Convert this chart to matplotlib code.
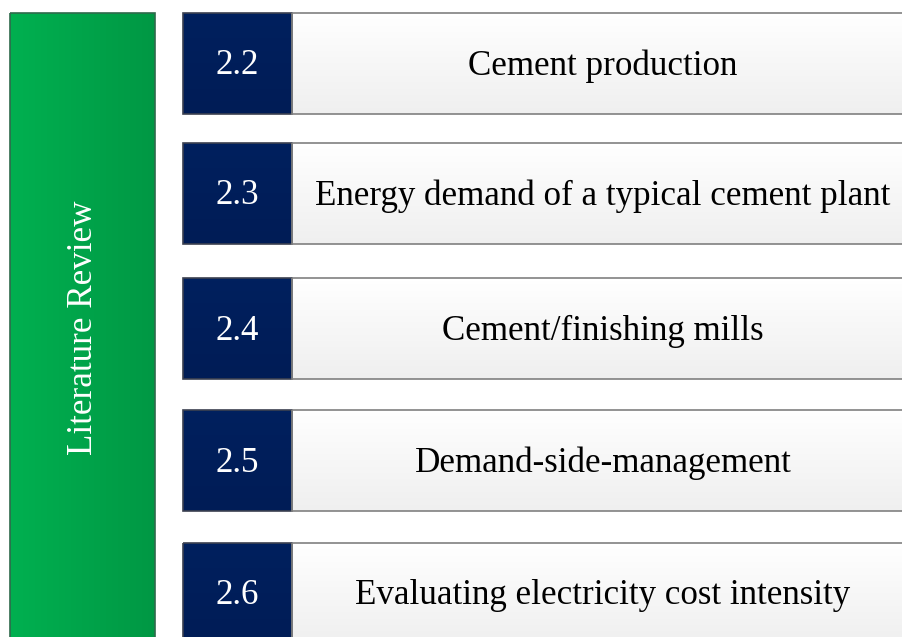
import numpy as np
import matplotlib
matplotlib.use("Agg")
import matplotlib.pyplot as plt
from matplotlib.patches import Rectangle

plt.rcParams['font.family'] = ['Liberation Serif', 'DejaVu Serif']

section_nums = ["2.2", "2.3", "2.4", "2.5", "2.6"]
section_titles = ["Cement production",
                  "Energy demand of a typical cement plant",
                  "Cement/finishing mills",
                  "Demand-side-management",
                  "Evaluating electricity cost intensity"]
side_label = "Literature Review"

W, H = 903, 637
fig = plt.figure(figsize=(W / 100, H / 100), dpi=100)
ax = fig.add_axes([0, 0, 1, 1])
ax.set_xlim(0, W)
ax.set_ylim(H, 0)
ax.axis("off")

# green side bar with horizontal gradient
g = np.linspace(0, 1, 64)[None, :]
c0 = np.array([0x00, 0xb0, 0x50]) / 255
c1 = np.array([0x00, 0x98, 0x44]) / 255
green = c0[None, None, :] * (1 - g[..., None]) + c1[None, None, :] * g[..., None]
ax.imshow(green, extent=(10, 155, 650, 13), aspect="auto", zorder=1)
ax.add_patch(Rectangle((10, 13), 145, 640, fill=False, ec="#2f6a4c", lw=1.2, zorder=3))
ax.text(84, 328, side_label, rotation=90, color="white", fontsize=25.2,
        ha="center", va="center", zorder=4)

tops = [13, 143, 278, 410, 543]
box_h = 101
for num, title, top in zip(section_nums, section_titles, tops):
    # navy number box
    nv = np.linspace(0, 1, 32)[:, None]
    n0 = np.array([0x00, 0x20, 0x5e]) / 255
    n1 = np.array([0x00, 0x1c, 0x56]) / 255
    navy = n0[None, None, :] * (1 - nv[..., None]) + n1[None, None, :] * nv[..., None]
    ax.imshow(navy, extent=(183, 292, top + box_h, top), aspect="auto", zorder=1)
    ax.add_patch(Rectangle((183, top), 109, box_h, fill=False, ec="#3c4150", lw=1.2, zorder=3))
    ax.text(237.5, top + box_h / 2 + 2.5, num, color="white", fontsize=25.2,
            ha="center", va="center", zorder=4)

    # light title box with vertical gradient
    gv = np.linspace(0, 1, 32)[:, None]
    w0 = np.array([1.0, 1.0, 1.0])
    w1 = np.array([0xef, 0xef, 0xef]) / 255
    grey = w0[None, None, :] * (1 - gv[..., None]) + w1[None, None, :] * gv[..., None]
    ax.imshow(grey, extent=(292, 915, top + box_h, top), aspect="auto", zorder=1)
    ax.add_patch(Rectangle((292, top), 623, box_h, fill=False, ec="#808080", lw=1.2, zorder=3))
    ax.text(603, top + box_h / 2 + 2.5, title, color="black", fontsize=25.2,
            ha="center", va="center", zorder=4)

ax.set_xlim(0, W)
ax.set_ylim(H, 0)
fig.savefig("out.png", dpi=100)
